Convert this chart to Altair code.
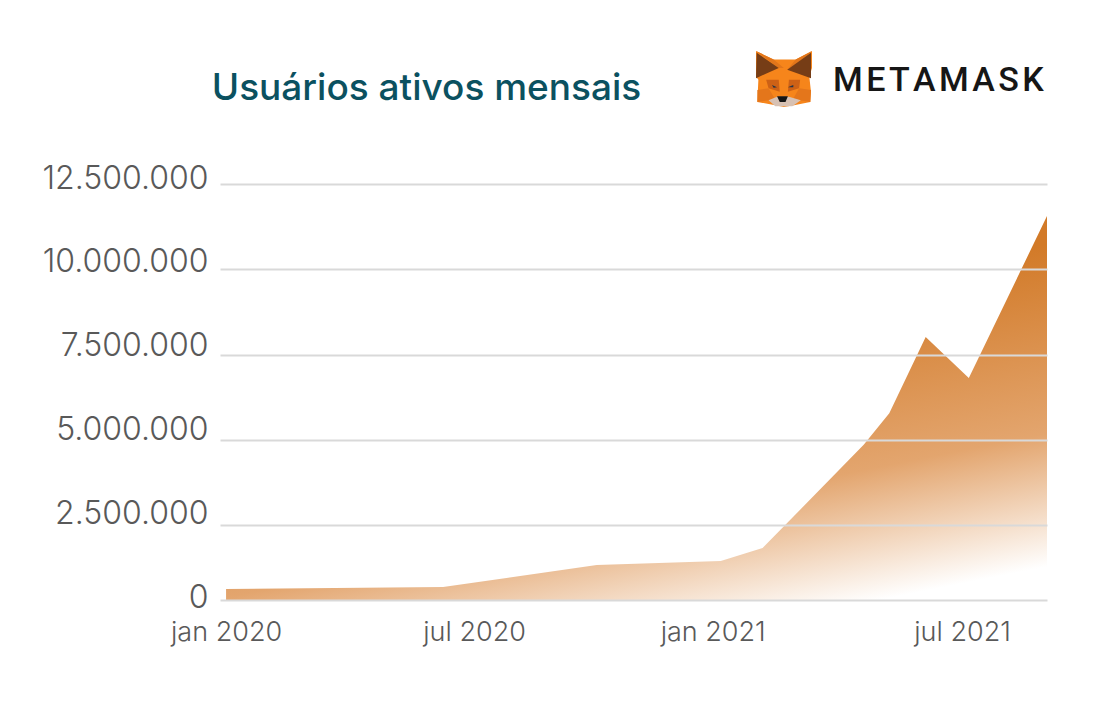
import base64
import altair as alt
import pandas as pd

dates = ["2020-01-01", "2020-06-10", "2020-10-02", "2021-01-02", "2021-02-02",
         "2021-04-18", "2021-05-07", "2021-06-03", "2021-07-05", "2021-09-01"]
users = [370000, 430000, 1170000, 1300000, 1730000, 4850000, 5780000, 8010000, 6810000, 11560000]
y_ticks = [0, 2500000, 5000000, 7500000, 10000000, 12500000]
x_tick_positions = ["2020-01-01", "2020-07-03", "2020-12-27", "2021-06-30"]
x_tick_labels = ["jan 2020", "jul 2020", "jan 2021", "jul 2021"]
title_text = "Usuários ativos mensais"
brand_text = "M\u200aE\u200aT\u200aA\u200aM\u200aA\u200aS\u200aK"

LABEL = "#595959"
FONT = "Inter"

df = pd.DataFrame({"date": dates, "users": users})
ticks = pd.DataFrame({"v": y_ticks})

fox_polys = [
    ("#F6851B", "0,0 52,25 117,25 165,0 165,50 157,75 162,120 160,150 112,160 82,165 57,160 4,150 7,85 0,75"),
    ("#E2761B", "0,0 52,25 82,50 67,50"),
    ("#E2761B", "165,0 117,25 92,55 102,55"),
    ("#763D16", "2,5 67,50 0,80"),
    ("#763D16", "162,5 92,55 162,80"),
    ("#CD6116", "30,85 67,85 70,120 37,110"),
    ("#CD6116", "130,85 97,85 94,120 127,110"),
    ("#E4761B", "4,115 37,110 55,140 37,145 4,150"),
    ("#E4761B", "162,115 127,110 110,140 127,145 160,150"),
    ("#233447", "47,100 62,107 52,108"),
    ("#233447", "110,107 94,107 110,100"),
    ("#D7C1B3", "37,145 62,135 97,135 132,145 107,163 57,163"),
    ("#161616", "62,133 94,133 87,150 70,150"),
]
svg = ('<svg xmlns="http://www.w3.org/2000/svg" width="56" height="56" viewBox="0 0 165 165">'
       + "".join(f'<polygon fill="{c}" points="{p}"/>' for c, p in fox_polys) + "</svg>")
logo_url = "data:image/svg+xml;base64," + base64.b64encode(svg.encode()).decode()

x_scale = alt.Scale(type="utc", domain=["2019-12-27T12:00:00Z", "2021-09-01T00:00:00Z"], nice=False)

gradient = alt.LinearGradient(
    gradient="linear", x1=1, y1=0, x2=1.33, y2=0.772,
    stops=[alt.GradientStop(offset=0.08, color="#D27A28"),
           alt.GradientStop(offset=0.62, color="#E3A56E"),
           alt.GradientStop(offset=1, color="#FFFFFF")],
)

area = alt.Chart(df).mark_area(color=gradient, interpolate="linear").encode(
    x=alt.X("date:T", scale=x_scale, title=None,
            axis=alt.Axis(values=x_tick_positions, domain=False, ticks=False, grid=False,
                          labelExpr="[" + ",".join(f"'{s}'" for s in x_tick_labels) + "][round(datum.index*3)]",
                          labelFontSize=27, labelFontWeight=300, labelColor=LABEL, labelFont=FONT,
                          labelPadding=19, labelFlush=False, labelOverlap=False)),
    y=alt.Y("users:Q", stack=None, title=None,
            scale=alt.Scale(domain=[0, 2500000, 12500000], range=[416, 341, 0], nice=False, zero=False),
            axis=alt.Axis(values=y_ticks, labels=False, domain=False, ticks=False, grid=True,
                          gridColor="#D9D9D9", gridWidth=2, zindex=1)),
)

labels = alt.Chart(ticks).mark_point(opacity=0).encode(
    y=alt.Y("v:Q", title=None,
            scale=alt.Scale(domain=[0, 12500000], range=[413, -6], nice=False),
            axis=alt.Axis(orient="left", values=y_ticks, domain=False, ticks=False, grid=False,
                          labelExpr="replace(format(datum.value, ','), /,/g, '.')",
                          labelFontSize=32, labelFontWeight=300, labelColor=LABEL, labelFont=FONT,
                          labelPadding=12, labelOverlap=False, labelFlush=False)),
)

one = pd.DataFrame({"a": [1]})
logo = alt.Chart(one).mark_image(width=56, height=56, align="left", baseline="top").encode(
    x=alt.value(536), y=alt.value(-133), url=alt.value(logo_url))
brand = alt.Chart(one).mark_text(text=brand_text, align="left", baseline="alphabetic", fontSize=34,
                                 font="Roboto", fontWeight=500, color="#161616").encode(
    x=alt.value(613), y=alt.value(-93))

chart = (
    alt.layer(area, labels, logo, brand)
    .resolve_scale(y="independent")
    .resolve_axis(y="independent")
    .properties(
        width=827, height=416,
        padding={"left": 212, "top": 176, "right": 40, "bottom": 90},
        autosize=alt.AutoSizeParams(type="none"),
        background="white",
        title=alt.TitleParams(title_text, anchor="middle", frame="group", dx=-207, offset=0, dy=57,
                              fontSize=37, font=FONT, fontWeight=500, color="#0B5160"),
    )
    .configure_view(stroke=None)
)
chart.save("out.html", embed_options={"renderer": "svg", "actions": False})
